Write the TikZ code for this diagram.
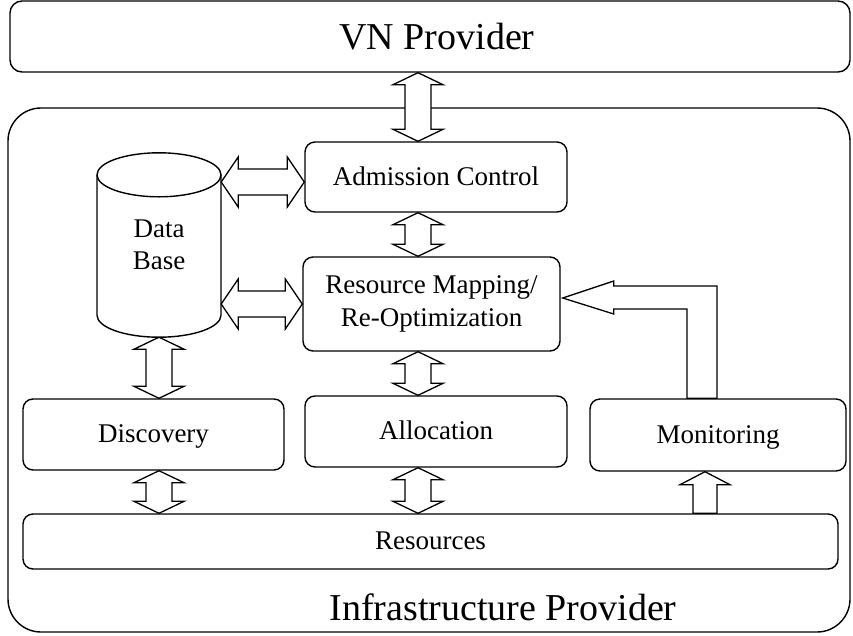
\documentclass[tikz,border=0pt]{standalone}
\usepackage{fontspec}
\setmainfont{Liberation Serif}
\usetikzlibrary{calc}

% vertical double arrow between two tips (upper tip first)
\newcommand\vdbl[2]{%
  \draw[fatarrow] let \p1=#1, \p2=#2 in
    (\x1,\y1) -- (\x1+25pt,\y1-12pt) -- (\x1+13pt,\y1-12pt)
    -- (\x1+13pt,\y2+12pt) -- (\x1+25pt,\y2+12pt) -- (\x1,\y2)
    -- (\x1-25pt,\y2+12pt) -- (\x1-13pt,\y2+12pt)
    -- (\x1-13pt,\y1-12pt) -- (\x1-25pt,\y1-12pt) -- cycle;}
% horizontal double arrow between two tips (left tip first)
\newcommand\hdbl[2]{%
  \draw[fatarrow] let \p1=#1, \p2=#2 in
    (\x1,\y1) -- (\x1+17pt,\y1+25pt) -- (\x1+17pt,\y1+13pt)
    -- (\x2-17pt,\y1+13pt) -- (\x2-17pt,\y1+25pt) -- (\x2,\y1)
    -- (\x2-17pt,\y1-25pt) -- (\x2-17pt,\y1-13pt)
    -- (\x1+17pt,\y1-13pt) -- (\x1+17pt,\y1-25pt) -- cycle;}

\begin{document}
\begin{tikzpicture}[x=1pt,y=-1pt,
  box/.style={draw,line width=1.4pt,rounded corners=10pt,inner sep=0pt,
    font=\fontsize{27}{33}\selectfont,align=center},
  oneline/.style={text height=21.6pt,text depth=5.4pt},
  outerbox/.style={draw,line width=1.4pt,inner sep=0pt},
  biglabel/.style={font=\fontsize{38}{46}\selectfont,anchor=base,inner sep=0pt},
  fatarrow/.style={draw,fill=white,line width=1.3pt,line join=miter}]
\useasboundingbox (0,0) rectangle (853,635);

% provider frames
\node[outerbox,rounded corners=12pt,minimum width=840pt,minimum height=71pt] (vn) at (430,36.5) {};
\node[biglabel] (vnlabel) at (437,49) {VN Provider};
\node[outerbox,rounded corners=33pt,minimum width=842pt,minimum height=524pt] (infra) at (429,370) {};
\node[biglabel] (infralabel) at (503,620) {Infrastructure Provider};

% functional blocks
\node[box,oneline,minimum width=262pt,minimum height=70pt] (adm) at (436,177) {Admission Control};
\node[box,minimum width=257pt,minimum height=94pt] (rm) at (431.5,304) {Resource Mapping/\\Re-Optimization};
\node[box,oneline,minimum width=261pt,minimum height=71pt] (disc) at (153.5,434.5) {Discovery};
\node[box,oneline,minimum width=262pt,minimum height=71pt] (alloc) at (436,431.5) {Allocation};
\node[box,oneline,minimum width=256pt,minimum height=72pt] (mon) at (718,435) {Monitoring};
\node[box,oneline,minimum width=815pt,minimum height=55pt] (res) at (430.5,541.5) {Resources};

% data base cylinder
\node[inner sep=0pt,minimum width=124pt,minimum height=184pt,align=center,
  font=\fontsize{27}{32}\selectfont] (db) at (159,245) {Data\\Base};
\coordinate (dbtop) at ($(db.north)+(0pt,-22pt)$);
\coordinate (dbbot) at ($(db.south)+(0pt,22pt)$);
\draw[line width=1.4pt] (dbtop) circle[x radius=62pt,y radius=22pt];
\draw[line width=1.4pt] ($(dbtop)+(-62pt,0pt)$) -- ($(dbbot)+(-62pt,0pt)$)
  arc[start angle=180,end angle=360,x radius=62pt,y radius=22pt]
  -- ($(dbtop)+(62pt,0pt)$);

% arrow axes
\coordinate (mx) at (418,0);
\coordinate (upx) at (705,0);
\coordinate (fbx) at (702,0);
\coordinate (admin) at ($(adm.west)+(0pt,-5pt)$);
\coordinate (rmin) at ($(rm.east)+(2pt,6pt)$);

% double arrows
\vdbl{(vn.south -| mx)}{(adm.north -| mx)}
\vdbl{(adm.south -| mx)}{(rm.north -| mx)}
\vdbl{(rm.south -| mx)}{(alloc.north -| mx)}
\vdbl{(alloc.south -| mx)}{(res.north -| mx)}
\vdbl{(db.south)}{(disc.north -| db.south)}
\vdbl{(disc.south -| db.south)}{(res.north -| db.south)}
\hdbl{(db.east |- admin)}{(admin)}
\hdbl{(db.east |- rm.west)}{(rm.west)}

% resources feed monitoring
\draw[fatarrow] let \p1=(mon.south -| upx), \p2=(res.north -| upx) in
  (\x1,\y1) -- (\x1+25pt,\y1-13pt) -- (\x1+12pt,\y1-13pt) -- (\x1+12pt,\y2)
  -- (\x1-12pt,\y2) -- (\x1-12pt,\y1-13pt) -- (\x1-25pt,\y1-13pt) -- cycle;

% monitoring feeds back to re-optimization
\draw[fatarrow] let \p1=(rmin), \p2=(mon.north -| fbx) in
  (\x1,\y1) -- (\x1+51pt,\y1+17pt) -- (\x1+51pt,\y1+12pt) -- (\x2+15pt,\y1+12pt)
  -- (\x2+15pt,\y2) -- (\x2-15pt,\y2) -- (\x2-15pt,\y1-11pt)
  -- (\x1+51pt,\y1-11pt) -- (\x1+51pt,\y1-16pt) -- cycle;
\end{tikzpicture}
\end{document}
